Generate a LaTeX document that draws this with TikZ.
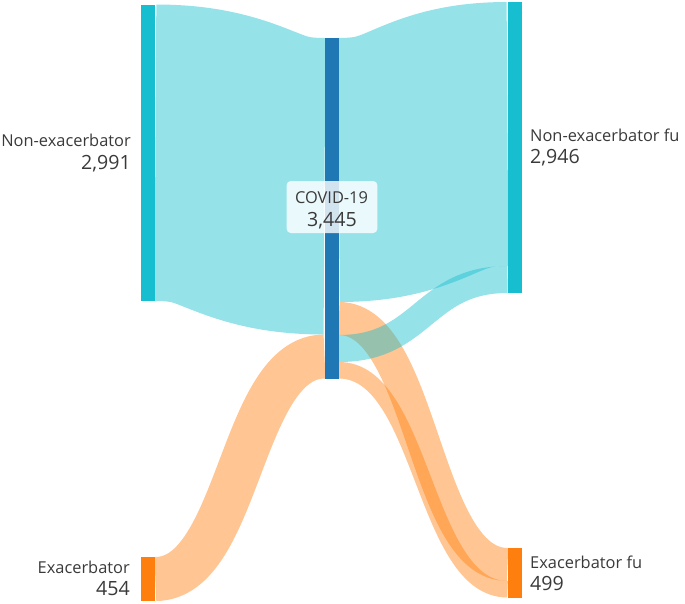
\documentclass[tikz,border=0pt]{standalone}
\usepackage{fontspec}
\usepackage{tikz}
\usetikzlibrary{calc}
\newfontfamily\labfont{Open Sans}
\definecolor{cyanC}{HTML}{17BECF}
\definecolor{blueC}{HTML}{1F77B4}
\definecolor{orangeC}{HTML}{FF7F0E}
\definecolor{txtC}{HTML}{3A3A3A}

\begin{document}
\begin{tikzpicture}[x=1pt,y=-1pt,
  bar/.style={draw=none,inner sep=0pt,minimum width=14pt,anchor=north west},
  lab/.style={font=\labfont\fontsize{16.4}{16.4}\selectfont,text=txtC,inner sep=0pt},
  num/.style={font=\labfont\fontsize{19.6}{19.6}\selectfont,text=txtC,inner sep=0pt},
  tagbox/.style={fill=white,fill opacity=.8,rounded corners=4pt,inner sep=0pt,
    minimum width=90.6pt,minimum height=52pt}]
\useasboundingbox (0,0) rectangle (685,603);
% bars
\foreach \n/\x/\y/\h/\c in {NE/141/4.5/296.5/cyanC,EX/141/557/44/orangeC,
    CV/324.5/38/340.5/blueC,NF/507.5/2/291/cyanC,EF/507.5/548/49.5/orangeC} {
  \path node[bar,minimum height=\h pt] (\n) at (\x,\y) {};
}
% flows (source/offset -> target/offset, width)
\foreach \c/\s/\so/\t/\to/\w in {orangeC/EX/0/CV/296.5/44,orangeC/CV/264/EF/0/33,
    orangeC/CV/324/EF/33/16.5,cyanC/NE/0/CV/0/296.5,cyanC/CV/0/NF/0/264,
    cyanC/CV/297/NF/264/27} {
  \draw[draw=\c,draw opacity=.45,line width=\w pt]
    let \p1=($(\s.north east)+(0,\so+\w/2)$), \p2=($(\t.north west)+(0,\to+\w/2)$) in
    (\p1) .. controls ({(\x1+\x2)/2},\y1) and ({(\x1+\x2)/2},\y2) .. (\p2);
}
% bars on top
\foreach \n/\c in {NE/cyanC,EX/orangeC,CV/blueC,NF/cyanC,EF/orangeC} {
  \fill[\c] (\n.north west) rectangle (\n.south east);
}
% labels
\node[lab,anchor=base east] (NEl) at (131,146.7) {Non-exacerbator};
\node[num,anchor=base east] (NEv) at (131,169.3) {2,991};
\node[lab,anchor=base west] (NFl) at (530,141) {Non-exacerbator fu};
\node[num,anchor=base west] (NFv) at (530,163.5) {2,946};
\node[lab,anchor=base east] (EXl) at (130,573.3) {Exacerbator};
\node[num,anchor=base east] (EXv) at (130,595) {454};
\node[lab,anchor=base west] (EFl) at (530,568.3) {Exacerbator fu};
\node[num,anchor=base west] (EFv) at (530,590) {499};
\node[tagbox] (CVbox) at (332,207) {};
\node[lab,anchor=base] (CVl) at (331.5,203.3) {COVID-19};
\node[num,anchor=base] (CVv) at (332,226.7) {3,445};
\end{tikzpicture}
\end{document}
